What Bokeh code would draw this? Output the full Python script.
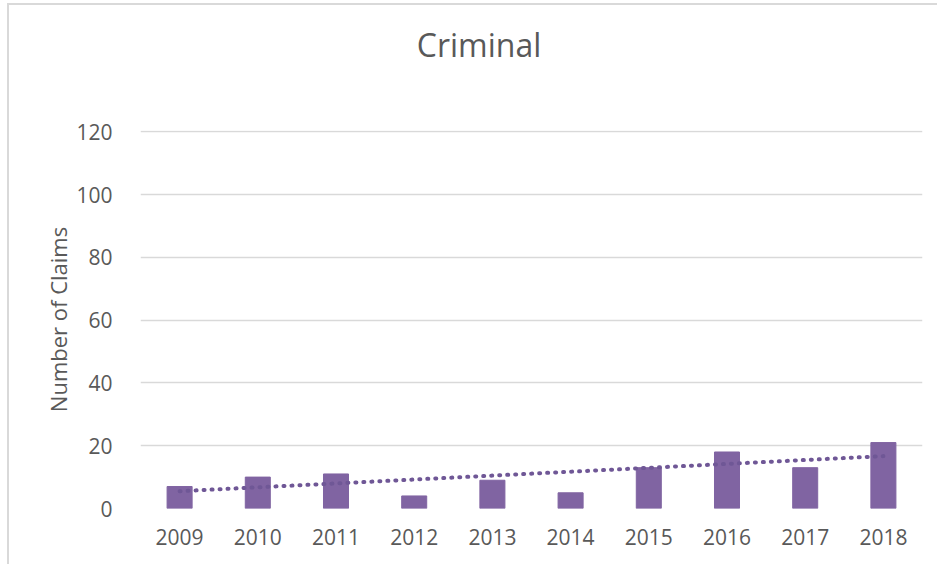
import numpy as np
from bokeh.plotting import figure
from bokeh.layouts import column
from bokeh.models import ColumnDataSource, Range1d, FixedTicker, Div
from bokeh.embed import file_html
from bokeh.resources import INLINE

title = "Criminal"
years = ["2009", "2010", "2011", "2012", "2013", "2014", "2015", "2016", "2017", "2018"]
claims = [7, 10, 11, 4, 9, 5, 13, 18, 13, 21]
y_ticks = [0, 20, 40, 60, 80, 100, 120]

idx = np.arange(1, len(claims) + 1)
slope, intercept = np.polyfit(idx, claims, 1)
trend = list(slope * idx + intercept)

FONT = "Open Sans"
TXT = "#595959"
BAR = "#8064A2"

ML, MT = 7, 3  # outer offset of the chart border
W = 937 - ML - 2
TH = 80  # title block height

head = Div(text=f'<div style="width:{W - 12}px;margin-left:12px;text-align:center;font-family:\'{FONT}\';font-size:32px;'
                f'color:{TXT};padding-top:21px;line-height:38px;">{title}</div>',
           width=W, height=TH, margin=0)

p = figure(x_range=years, y_range=Range1d(0, 120.4), width=W, height=565 - MT - 2 - TH,
           frame_width=782, frame_height=378,
           min_border_left=140 - ML - 2, min_border_right=6, min_border_top=130 - MT - 2 - TH,
           min_border_bottom=565 - 508 - 1,
           output_backend="svg", toolbar_location=None)

src = ColumnDataSource(dict(year=years, claims=claims, trend=trend))
p.vbar(x="year", top="claims", width=0.32, source=src, color=BAR)
p.line(x="year", y="trend", source=src, line_color="#6F5796", line_width=4, line_dash="1 7", line_cap="round")

p.yaxis.ticker = FixedTicker(ticks=y_ticks)
for ax in (p.xaxis[0], p.yaxis[0]):
    ax.axis_line_color = None
    ax.major_tick_line_color = None
    ax.minor_tick_line_color = None
    ax.major_label_text_font = FONT
    ax.major_label_text_font_size = "21px"
    ax.major_label_text_color = TXT
p.yaxis.major_label_standoff = 22
p.xaxis.major_label_standoff = 14
p.yaxis.axis_label = "Number of Claims"
p.yaxis.axis_label_text_font = FONT
p.yaxis.axis_label_text_font_size = "22px"
p.yaxis.axis_label_text_font_style = "normal"
p.yaxis.axis_label_text_color = TXT
p.yaxis.axis_label_standoff = 0

p.xgrid.grid_line_color = None
p.ygrid.grid_line_color = "#D9D9D9"
p.ygrid.grid_line_width = 1.5
p.outline_line_color = None
p.background_fill_color = "white"
p.border_fill_color = "white"

root = column(head, p, spacing=0)
root.styles = {"margin-left": f"{ML}px", "margin-top": f"{MT}px",
               "border-left": "2px solid #D9D9D9", "border-top": "2px solid #D9D9D9",
               "background-color": "white"}

open("out.html", "w").write(file_html(root, INLINE))
